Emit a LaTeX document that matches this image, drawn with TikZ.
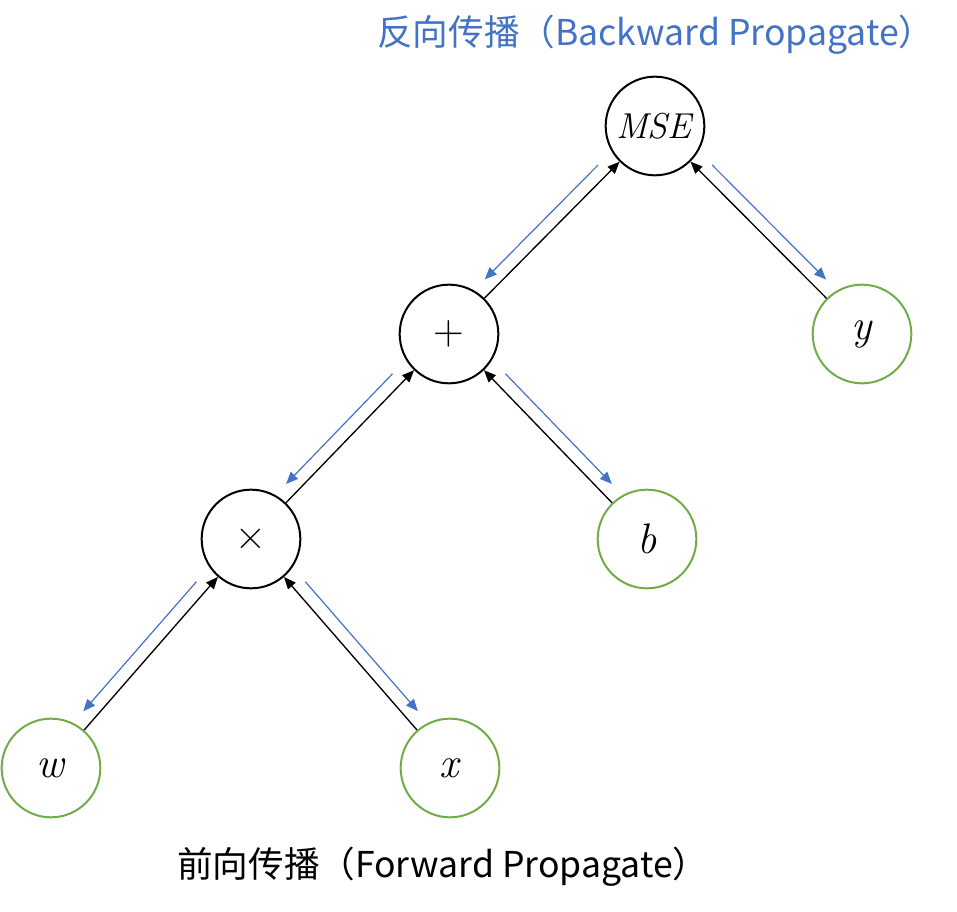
\documentclass[tikz,border=0pt]{standalone}
\usepackage{fontspec}
\usetikzlibrary{calc,arrows.meta}
\newfontfamily\cjk{Noto Sans CJK SC}
\definecolor{bpblue}{HTML}{4472C4}
\definecolor{leafgreen}{HTML}{70AD47}
\newcommand\glab[2]{{\fontsize{#1}{#1}\selectfont #2}}
\newcommand\backprop[3]{%
  \coordinate (bs) at ($ ($(#1)!51pt!(#2)$)!9.75pt!#3:(#2) $);
  \coordinate (be) at ($ ($(#2)!48pt!(#1)$)!9.75pt!-#3:(#1) $);
  \draw[bparrow] (bs) -- (be);
}
\begin{document}
\begin{tikzpicture}[x=0.75pt,y=-0.75pt,
  gnode/.style={circle,line width=1.5pt,minimum size=74pt,inner sep=0pt},
  opnode/.style={gnode,draw=black},
  leafnode/.style={gnode,draw=leafgreen},
  fwarrow/.style={draw=black,line width=1pt,-{Triangle[length=9pt,width=7.5pt]}},
  bparrow/.style={draw=bpblue,line width=0.9pt,-{Triangle[length=9pt,width=7.5pt]}},
  title/.style={anchor=west,inner sep=0pt,font=\cjk\fontsize{26.7}{32}\selectfont}]
\useasboundingbox (0,0) rectangle (957,912);
\node[opnode] (mse) at (655,126) {\glab{27}{\textit{MSE}}};
\node[opnode] (plus) at (449,334) {\glab{32}{+}};
\node[leafnode] (y) at (862,334) {\glab{32}{\textit{y}}};
\node[opnode] (times) at (251,539) {\glab{32}{×}};
\node[leafnode] (b) at (647,539) {\glab{32}{\textit{b}}};
\node[leafnode] (w) at (51,768) {\glab{32}{\textit{w}}};
\node[leafnode] (x) at (450,768) {\glab{32}{\textit{x}}};
\draw[fwarrow] (plus) -- (mse);
\draw[fwarrow] (y) -- (mse);
\draw[fwarrow] (times) -- (plus);
\draw[fwarrow] (b) -- (plus);
\draw[fwarrow] (w) -- (times);
\draw[fwarrow] (x) -- (times);
\backprop{mse}{plus}{-90}
\backprop{mse}{y}{90}
\backprop{plus}{times}{-90}
\backprop{plus}{b}{90}
\backprop{times}{w}{-90}
\backprop{times}{x}{90}
\node[title,text=bpblue] (bptitle) at (377,35) {反向传播（Backward Propagate）};
\node[title,text=black] (fwtitle) at (177,867) {前向传播（Forward Propagate）};
\end{tikzpicture}
\end{document}
